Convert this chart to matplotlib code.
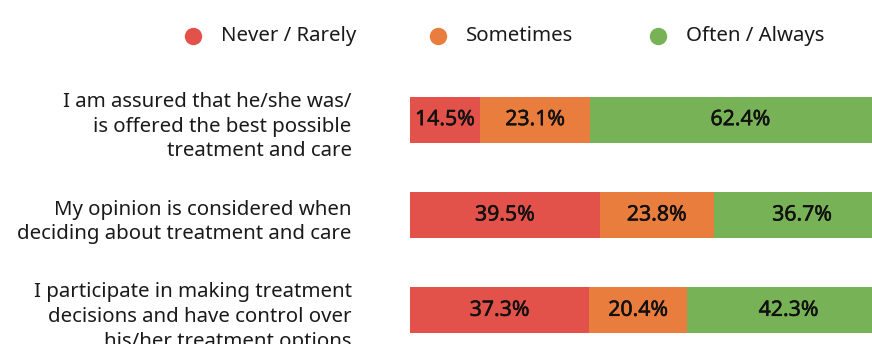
import matplotlib
matplotlib.use("Agg")
import matplotlib.pyplot as plt
import matplotlib.patheffects as pe
from matplotlib.lines import Line2D

plt.rcParams['font.family'] = ['Noto Sans', 'DejaVu Sans']

# survey statements and answer shares (%)
statements = [
    "I am assured that he/she was/\nis offered the best possible\ntreatment and care",
    "My opinion is considered when\ndeciding about treatment and care",
    "I participate in making treatment\ndecisions and have control over\nhis/her treatment options",
]
answers = ["Never / Rarely", "Sometimes", "Often / Always"]
never_rarely = [14.5, 39.5, 37.3]
sometimes = [23.1, 23.8, 20.4]
often_always = [62.4, 36.7, 42.3]
colors = ["#e3524a", "#e97d3e", "#78b257"]

W, H = 872, 344
fig = plt.figure(figsize=(W / 100, H / 100), dpi=100)
# bars run off the right and bottom edges on purpose
ax = fig.add_axes([410 / W, 1 - 358 / H, 480 / W, (358 - 72) / H])

# slightly heavier value labels
thick = [pe.withStroke(linewidth=0.35, foreground="#111111")]

series = [never_rarely, sometimes, often_always]
left = [0.0] * len(statements)
ypos = list(range(len(statements)))
for vals, col in zip(series, colors):
    bars = ax.barh(ypos, vals, left=left, height=0.48, color=col)
    for b, v in zip(bars, vals):
        ax.text(b.get_x() + b.get_width() / 2, b.get_y() + b.get_height() / 2,
                f"{v:.1f}%", ha="center", va="center", fontsize=15.3,
                color="#111111", path_effects=thick)
    left = [l + v for l, v in zip(left, vals)]

ax.set_xlim(0, 100)
ax.set_ylim(2.5, -0.5)
ax.axis("off")

for y, s in zip(ypos, statements):
    ax.annotate(s, xy=(0, y), xycoords="data", xytext=(-42, -5),
                textcoords="offset points", ha="right", va="center",
                fontsize=14.7, color="#1a1a1a", linespacing=1.32)

# legend row: dot then label
legend_x = [193, 438, 658]
for x, lab, c in zip(legend_x, answers, colors):
    fig.add_artist(Line2D([x / W], [1 - 36 / H], marker="o", linestyle="none",
                          markersize=11.5, markerfacecolor=c, markeredgecolor=c,
                          transform=fig.transFigure))
    fig.text((x + 28) / W, 1 - 36 / H, lab, ha="left", va="center",
             fontsize=14.7, color="#1a1a1a")

fig.savefig("out.png", dpi=100)
